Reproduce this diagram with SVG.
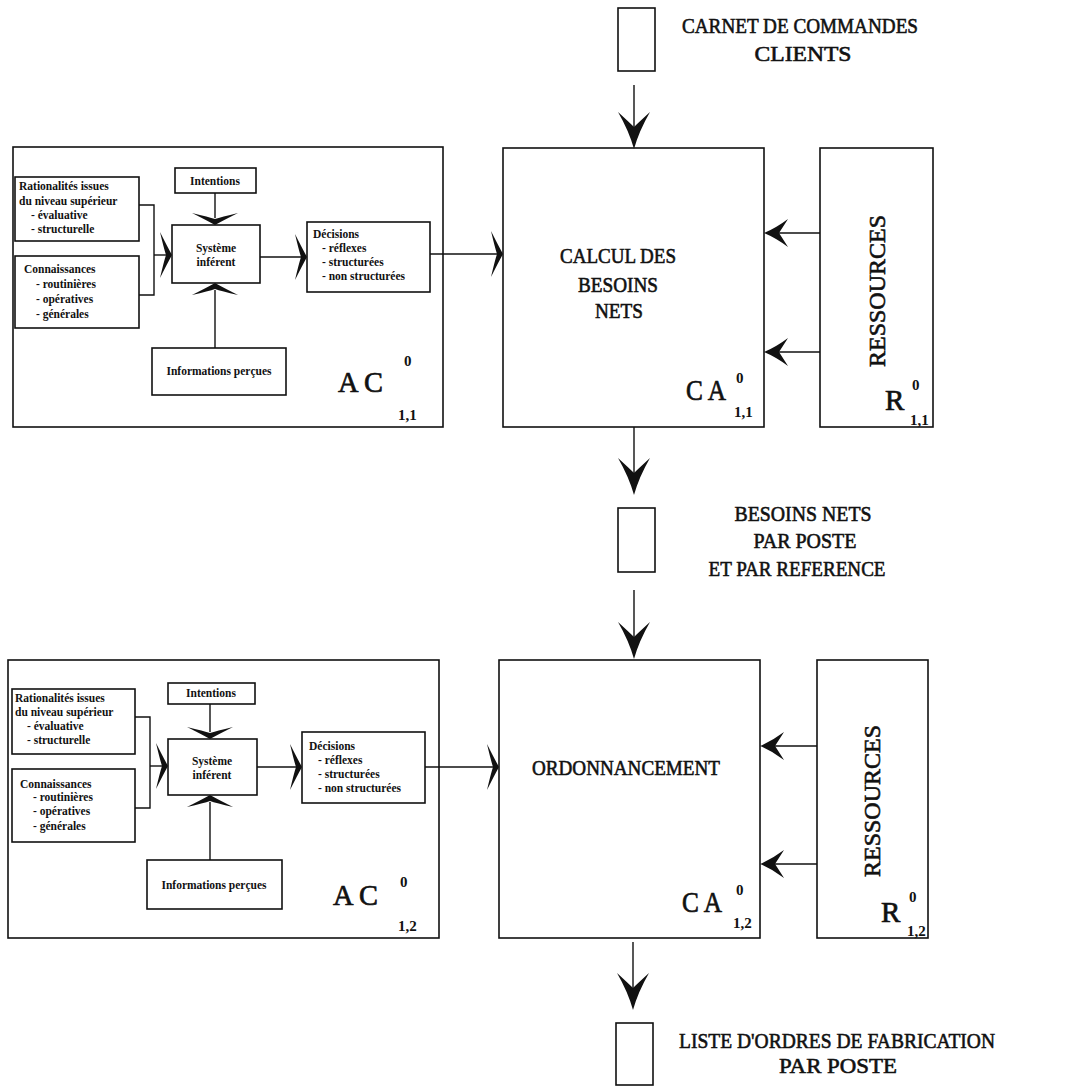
<svg xmlns="http://www.w3.org/2000/svg" xmlns:xlink="http://www.w3.org/1999/xlink" width="1091" height="1088" viewBox="0 0 1091 1088">
<style>
.box{fill:#fff;stroke:#111;stroke-width:1.6}
.ln{fill:none;stroke:#111;stroke-width:1.4}
.ah{fill:#111;stroke:none}
.big{font-family:"Liberation Serif",serif;font-size:22px;fill:#111;stroke:#111;stroke-width:0.6;text-anchor:middle}
.sm{font-family:"Liberation Serif",serif;font-size:11.5px;font-weight:bold;fill:#111}
.smc{font-family:"Liberation Serif",serif;font-size:11.5px;font-weight:bold;fill:#111;text-anchor:middle}
.lab{font-family:"Liberation Serif",serif;font-size:29px;fill:#111;stroke:#111;stroke-width:0.7}
.sub{font-family:"Liberation Serif",serif;font-size:15px;font-weight:bold;fill:#111}
.res{font-family:"Liberation Serif",serif;font-size:23px;fill:#111;stroke:#111;stroke-width:0.6;text-anchor:middle}
</style>
<defs>
<path id="bigA" d="M0,0 Q-18,-5 -37,-16 Q-26,-4 -22,0 Q-26,4 -37,16 Q-18,5 0,0Z"/>
<path id="midA" d="M0,0 Q-12,-5 -24,-14 Q-17,-3 -15,0 Q-17,3 -24,14 Q-12,5 0,0Z"/>
<path id="flatA" d="M0,0 Q-5,-9 -12,-23 Q-8,-6 -6,0 Q-8,6 -12,23 Q-5,9 0,0Z"/>
</defs>

<g id="doc-carnet">
<rect class="box" x="618" y="8" width="37" height="63"/>
<text class="big" x="800" y="33" textLength="236" lengthAdjust="spacingAndGlyphs">CARNET DE COMMANDES</text>
<text class="big" x="803" y="61" textLength="97" lengthAdjust="spacingAndGlyphs">CLIENTS</text>
</g>

<g id="ca11">
<rect class="box" x="503" y="148" width="261" height="279"/>
<text class="big" x="618" y="263" textLength="116" lengthAdjust="spacingAndGlyphs">CALCUL DES</text>
<text class="big" x="618" y="292" textLength="80" lengthAdjust="spacingAndGlyphs">BESOINS</text>
<text class="big" x="619" y="318" textLength="48" lengthAdjust="spacingAndGlyphs">NETS</text>
<text class="lab" x="686" y="400" textLength="40" lengthAdjust="spacingAndGlyphs">C A</text>
<text class="sub" x="736" y="383">0</text>
<text class="sub" x="734" y="417">1,1</text>
</g>

<g id="r11">
<rect class="box" x="820" y="148" width="113" height="279"/>
<text class="res" transform="translate(885,291) rotate(-90)" textLength="152" lengthAdjust="spacingAndGlyphs">RESSOURCES</text>
<text class="lab" x="885" y="410">R</text>
<text class="sub" x="912" y="390">0</text>
<text class="sub" x="910" y="425">1,1</text>
</g>

<g id="doc-besoins">
<rect class="box" x="618" y="508" width="37" height="64"/>
<text class="big" x="803" y="521" textLength="137" lengthAdjust="spacingAndGlyphs">BESOINS NETS</text>
<text class="big" x="805" y="548" textLength="103" lengthAdjust="spacingAndGlyphs">PAR POSTE</text>
<text class="big" x="797" y="576" textLength="177" lengthAdjust="spacingAndGlyphs">ET PAR REFERENCE</text>
</g>

<g id="ca12">
<rect class="box" x="499" y="660" width="261" height="278"/>
<text class="big" x="626" y="775" textLength="188" lengthAdjust="spacingAndGlyphs">ORDONNANCEMENT</text>
<text class="lab" x="682" y="912" textLength="40" lengthAdjust="spacingAndGlyphs">C A</text>
<text class="sub" x="736" y="895">0</text>
<text class="sub" x="733" y="928">1,2</text>
</g>

<g id="r12">
<rect class="box" x="817" y="660" width="111" height="278"/>
<text class="res" transform="translate(880,801) rotate(-90)" textLength="152" lengthAdjust="spacingAndGlyphs">RESSOURCES</text>
<text class="lab" x="881" y="922">R</text>
<text class="sub" x="909" y="902">0</text>
<text class="sub" x="907" y="936">1,2</text>
</g>

<g id="doc-liste">
<rect class="box" x="616" y="1023" width="37" height="62"/>
<text class="big" x="837" y="1048" textLength="316" lengthAdjust="spacingAndGlyphs">LISTE D'ORDRES DE FABRICATION</text>
<text class="big" x="838" y="1073" textLength="118" lengthAdjust="spacingAndGlyphs">PAR POSTE</text>
</g>

<g id="ac11">
<rect class="box" x="13" y="147" width="430" height="280"/>
<text class="lab" x="338" y="392" textLength="45" lengthAdjust="spacingAndGlyphs">A C</text>
<text class="sub" x="404" y="366">0</text>
<text class="sub" x="398" y="420">1,1</text>
<g id="ac11-rat">
<rect class="box" x="15" y="177" width="124" height="64"/>
<text class="sm" x="19" y="190">Rationalités issues</text>
<text class="sm" x="19" y="205">du niveau supérieur</text>
<text class="sm" x="31" y="219">- évaluative</text>
<text class="sm" x="31" y="233">- structurelle</text>
</g>
<g id="ac11-con">
<rect class="box" x="15" y="256" width="124" height="72"/>
<text class="sm" x="24" y="273">Connaissances</text>
<text class="sm" x="36" y="288">- routinières</text>
<text class="sm" x="36" y="303">- opératives</text>
<text class="sm" x="36" y="318">- générales</text>
</g>
<g id="ac11-int">
<rect class="box" x="175" y="168" width="81" height="25"/>
<text class="smc" x="215" y="185">Intentions</text>
</g>
<g id="ac11-sys">
<rect class="box" x="172" y="225" width="88" height="58"/>
<text class="smc" x="216" y="252">Système</text>
<text class="smc" x="216" y="266">inférent</text>
</g>
<g id="ac11-inf">
<rect class="box" x="152" y="348" width="134" height="47"/>
<text class="smc" x="219" y="375">Informations perçues</text>
</g>
<g id="ac11-dec">
<rect class="box" x="307" y="222" width="123" height="70"/>
<text class="sm" x="313" y="238">Décisions</text>
<text class="sm" x="322" y="252">- réflexes</text>
<text class="sm" x="322" y="266">- structurées</text>
<text class="sm" x="322" y="280">- non structurées</text>
</g>
</g>

<g id="ac12">
<rect class="box" x="8" y="660" width="431" height="278"/>
<text class="lab" x="333" y="905" textLength="45" lengthAdjust="spacingAndGlyphs">A C</text>
<text class="sub" x="400" y="887">0</text>
<text class="sub" x="398" y="931">1,2</text>
<g id="ac12-rat">
<rect class="box" x="12" y="689" width="123" height="65"/>
<text class="sm" x="15" y="702">Rationalités issues</text>
<text class="sm" x="15" y="716">du niveau supérieur</text>
<text class="sm" x="27" y="730">- évaluative</text>
<text class="sm" x="27" y="744">- structurelle</text>
</g>
<g id="ac12-con">
<rect class="box" x="12" y="769" width="123" height="73"/>
<text class="sm" x="20" y="788">Connaissances</text>
<text class="sm" x="33" y="801">- routinières</text>
<text class="sm" x="33" y="815">- opératives</text>
<text class="sm" x="33" y="830">- générales</text>
</g>
<g id="ac12-int">
<rect class="box" x="168" y="683" width="87" height="21"/>
<text class="smc" x="211" y="697">Intentions</text>
</g>
<g id="ac12-sys">
<rect class="box" x="168" y="739" width="89" height="56"/>
<text class="smc" x="212" y="765">Système</text>
<text class="smc" x="212" y="779">inférent</text>
</g>
<g id="ac12-inf">
<rect class="box" x="147" y="860" width="135" height="49"/>
<text class="smc" x="214" y="889">Informations perçues</text>
</g>
<g id="ac12-dec">
<rect class="box" x="302" y="732" width="123" height="71"/>
<text class="sm" x="309" y="750">Décisions</text>
<text class="sm" x="318" y="764">- réflexes</text>
<text class="sm" x="318" y="778">- structurées</text>
<text class="sm" x="318" y="792">- non structurées</text>
</g>
</g>

<g id="connectors">
<line class="ln" x1="634" y1="85" x2="634" y2="140"/>
<use href="#bigA" class="ah" transform="translate(634,149) rotate(90)"/>
<line class="ln" x1="634" y1="427" x2="634" y2="487"/>
<use href="#bigA" class="ah" transform="translate(634,495) rotate(90)"/>
<line class="ln" x1="634" y1="590" x2="634" y2="650"/>
<use href="#bigA" class="ah" transform="translate(634,659) rotate(90)"/>
<line class="ln" x1="633" y1="942" x2="633" y2="1002"/>
<use href="#bigA" class="ah" transform="translate(633,1010) rotate(90)"/>
<line class="ln" x1="820" y1="233" x2="770" y2="233"/>
<use href="#midA" class="ah" transform="translate(764,233) rotate(180)"/>
<line class="ln" x1="820" y1="352" x2="770" y2="352"/>
<use href="#midA" class="ah" transform="translate(764,352) rotate(180)"/>
<line class="ln" x1="817" y1="746" x2="766" y2="746"/>
<use href="#midA" class="ah" transform="translate(760,746) rotate(180)"/>
<line class="ln" x1="817" y1="864" x2="766" y2="864"/>
<use href="#midA" class="ah" transform="translate(760,864) rotate(180)"/>
<polyline class="ln" points="139,205 154,205 154,295 139,295"/>
<line class="ln" x1="154" y1="255" x2="166" y2="255"/>
<use href="#flatA" class="ah" transform="translate(172,255)"/>
<line class="ln" x1="215" y1="193" x2="215" y2="218"/>
<use href="#flatA" class="ah" transform="translate(215,225) rotate(90)"/>
<line class="ln" x1="215" y1="348" x2="215" y2="290"/>
<use href="#flatA" class="ah" transform="translate(215,283) rotate(-90)"/>
<line class="ln" x1="260" y1="257" x2="301" y2="257"/>
<use href="#flatA" class="ah" transform="translate(307,257)"/>
<line class="ln" x1="430" y1="254" x2="497" y2="254"/>
<use href="#flatA" class="ah" transform="translate(503,254)"/>
<polyline class="ln" points="135,717 150,717 150,808 135,808"/>
<line class="ln" x1="150" y1="766" x2="162" y2="766"/>
<use href="#flatA" class="ah" transform="translate(168,766)"/>
<line class="ln" x1="210" y1="704" x2="210" y2="732"/>
<use href="#flatA" class="ah" transform="translate(210,739) rotate(90)"/>
<line class="ln" x1="210" y1="860" x2="210" y2="802"/>
<use href="#flatA" class="ah" transform="translate(210,795) rotate(-90)"/>
<line class="ln" x1="257" y1="767" x2="296" y2="767"/>
<use href="#flatA" class="ah" transform="translate(302,767)"/>
<line class="ln" x1="425" y1="767" x2="493" y2="767"/>
<use href="#flatA" class="ah" transform="translate(499,767)"/>
</g>
</svg>
